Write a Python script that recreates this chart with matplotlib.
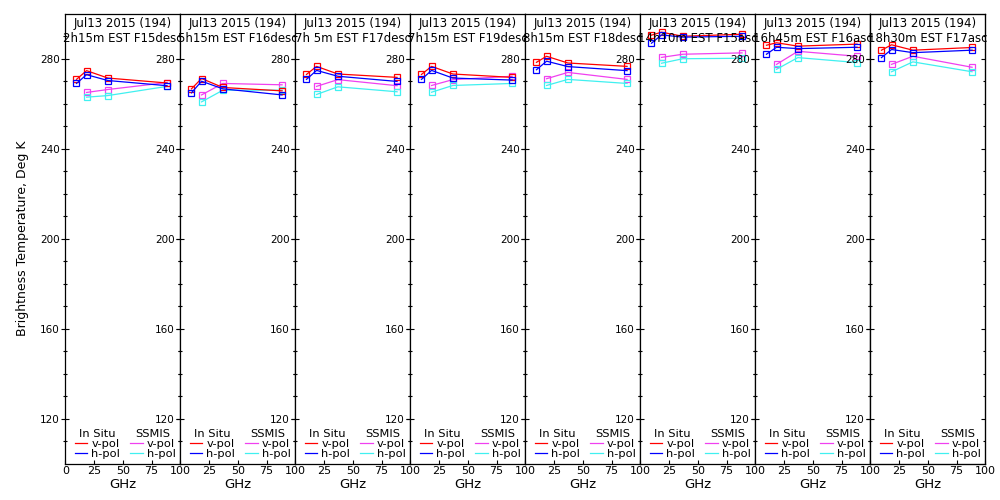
import numpy as np
import matplotlib
matplotlib.use("Agg")
import matplotlib.pyplot as plt
from matplotlib.lines import Line2D

# frequencies (GHz)
insitu_freq = [9.7, 18.5, 37.0, 88.5]
ssmis_freq = [18.5, 37.0, 88.5]

date_str = "Jul13 2015 (194)"
times = ["2h15m", "5h15m", "7h 5m", "7h15m", "8h15m", "14h10m", "16h45m", "18h30m"]
sats = ["F15desc", "F16desc", "F17desc", "F19desc", "F18desc", "F15asc", "F16asc", "F17asc"]

# in situ v-pol / h-pol, one row per panel
insitu_v = [[270.9, 274.8, 271.5, 269.3],
            [266.7, 271.3, 267.3, 265.8],
            [273.1, 276.7, 273.3, 271.8],
            [273.1, 276.7, 273.3, 271.8],
            [278.5, 281.2, 278.2, 276.7],
            [290.6, 291.9, 290.1, 291.0],
            [286.1, 287.2, 285.7, 286.6],
            [283.9, 286.3, 283.9, 285.1]]
insitu_h = [[269.1, 273.0, 270.4, 268.1],
            [264.9, 270.1, 266.7, 264.0],
            [270.9, 274.9, 272.3, 270.0],
            [270.9, 274.9, 271.5, 270.6],
            [275.2, 279.0, 276.6, 274.8],
            [287.0, 290.7, 289.7, 290.1],
            [282.1, 285.2, 284.6, 285.2],
            [280.6, 284.2, 282.8, 283.9]]
# SSMIS v-pol / h-pol
ssmis_v = [[265.1, 266.4, 269.5],
           [264.0, 269.1, 268.5],
           [267.8, 270.8, 268.1],
           [268.2, 270.8, 272.3],
           [271.2, 274.0, 270.9],
           [280.7, 282.1, 282.7],
           [277.6, 283.4, 281.2],
           [277.6, 281.2, 276.3]]
ssmis_h = [[263.0, 263.7, 267.8],
           [260.9, 266.1, 266.1],
           [264.2, 267.6, 265.4],
           [265.2, 268.2, 269.1],
           [268.2, 270.9, 269.1],
           [278.1, 280.1, 280.3],
           [275.4, 280.6, 278.4],
           [274.3, 278.7, 274.3]]

c_v, c_h = "#ff0000", "#0000ff"
c_sv, c_sh = "#f040f0", "#40f0f0"

fig = plt.figure(figsize=(10, 5), dpi=100)
fig.patch.set_facecolor("white")

left = 0.0653
w = 0.115
bottom = 0.073
h = 0.899
mk = dict(marker="s", markersize=3.8, markerfacecolor="none", markeredgewidth=0.9, linewidth=0.9)
leg_kw = dict(loc="lower center", frameon=False, fontsize=8.2, title_fontsize=8.2,
              handlelength=1.1, handletextpad=0.35, labelspacing=0.0,
              borderpad=0.1, borderaxespad=0)

for i in range(8):
    ax = fig.add_axes([left + i * w, bottom, w, h])
    ax.set_facecolor("white")
    ax.plot(ssmis_freq, ssmis_v[i], color=c_sv, markeredgecolor=c_sv, **mk)
    ax.plot(ssmis_freq, ssmis_h[i], color=c_sh, markeredgecolor=c_sh, **mk)
    ax.plot(insitu_freq, insitu_v[i], color=c_v, markeredgecolor=c_v, **mk)
    ax.plot(insitu_freq, insitu_h[i], color=c_h, markeredgecolor=c_h, **mk)
    ax.set_xlim(0, 100)
    ax.set_ylim(100, 300)
    ax.set_xticks([0, 25, 50, 75, 100])
    if i == 0:
        ax.set_xticklabels(["0", "25", "50", "75", "100"])
    else:
        ax.set_xticklabels(["", "25", "50", "75", "100"])
    ax.set_yticks([120, 160, 200, 240, 280])
    ax.set_yticks(np.arange(110, 300, 10), minor=True)
    ax.tick_params(axis="x", direction="in", length=3, width=0.8, pad=2, labelsize=8)
    ax.tick_params(axis="y", which="major", direction="inout", length=6, width=0.8,
                   left=True, right=(i < 7), pad=1, labelsize=7.5)
    ax.tick_params(axis="y", which="minor", direction="inout", length=3, width=0.8,
                   left=True, right=(i < 7))
    for s in ax.spines.values():
        s.set_linewidth(0.9)
    ax.set_xlabel("GHz", fontsize=9.5, labelpad=1)
    if i == 0:
        ax.set_ylabel("Brightness Temperature, Deg K", fontsize=9, labelpad=8)

    ax.text(0.5, 0.978, date_str, transform=ax.transAxes, ha="center", va="center", fontsize=8.5)
    ax.text(0.5, 0.946, times[i] + " EST " + sats[i], transform=ax.transAxes,
            ha="center", va="center", fontsize=8.5)

    h1 = [Line2D([], [], color=c_v, lw=0.9), Line2D([], [], color=c_h, lw=0.9)]
    h2 = [Line2D([], [], color=c_sv, lw=0.9), Line2D([], [], color=c_sh, lw=0.9)]
    lg1 = ax.legend(h1, ["v-pol", "h-pol"], title="In Situ",
                    bbox_to_anchor=(0.28, 0.008), **leg_kw)
    ax.add_artist(lg1)
    ax.legend(h2, ["v-pol", "h-pol"], title="SSMIS",
              bbox_to_anchor=(0.76, 0.008), **leg_kw)

# last panel: inward ticks on the right edge only
ax2 = ax.twinx()
ax2.set_ylim(100, 300)
ax2.set_yticks([120, 160, 200, 240, 280])
ax2.set_yticks(np.arange(110, 300, 10), minor=True)
ax2.tick_params(axis="y", which="major", direction="in", length=3, width=0.8, labelright=False)
ax2.tick_params(axis="y", which="minor", direction="in", length=1.5, width=0.8)

fig.savefig("out.png", dpi=100, facecolor="white")
